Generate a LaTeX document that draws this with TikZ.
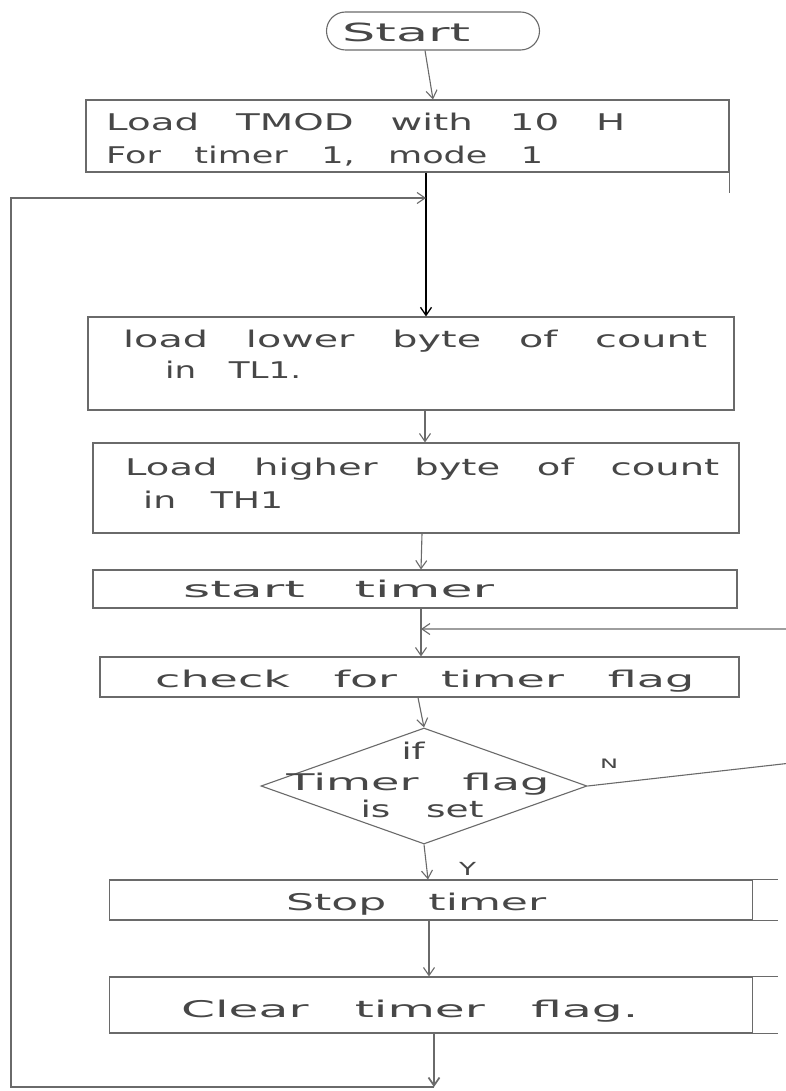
\documentclass[tikz,border=0pt]{standalone}
\usepackage{fontspec}
\setmainfont{DejaVu Sans}[WordSpace=3]
\usepackage{graphicx}
\usetikzlibrary{arrows.meta,shapes.geometric}
\definecolor{inkline}{HTML}{6A6A6A}
\definecolor{inktext}{HTML}{474747}
\newcommand{\hw}[2]{\resizebox{#1pt}{\height}{#2}}
\begin{document}
\begin{tikzpicture}[x=1pt,y=-1pt,
  ln/.style={draw=inkline, line width=1.1pt},
  arr/.style={ln, -{Straight Barb[length=8pt,width=11pt]}},
  boxshape/.style={draw=inkline, line width=1.1pt, rectangle, inner sep=0pt},
  txt/.style={anchor=base west, inner sep=0pt, text=inktext, font=\fontsize{23pt}{28pt}\selectfont},
  ctxt/.style={txt, anchor=base}]
\fill[white] (0,0) rectangle (786,1091);
\useasboundingbox (0,0) rectangle (786,1091);

% boxes
\node[boxshape, minimum width=213pt, minimum height=38pt, rounded corners=19pt] (st) at (433,31) {};
\node[boxshape, minimum width=643pt, minimum height=72pt] (b1) at (407.5,136) {};
\node[boxshape, minimum width=646pt, minimum height=93pt] (b2) at (411,363.5) {};
\node[boxshape, minimum width=646pt, minimum height=90pt] (b3) at (416,488) {};
\node[boxshape, minimum width=644pt, minimum height=38pt] (b4) at (415,589) {};
\node[boxshape, minimum width=639pt, minimum height=40pt] (b5) at (419.5,677) {};
\node[draw=inkline, line width=1.1pt, diamond, inner sep=0pt, minimum width=326pt, minimum height=116pt] (dia) at (424,786) {};
\node[boxshape, minimum width=643pt, minimum height=40pt] (b6) at (431,900) {};
\node[boxshape, minimum width=643pt, minimum height=56pt] (b7) at (431,1005) {};

% hand-drawn overruns of box edges
\draw[ln] (b1.south east) -- ++(0,20);
\draw[ln] (b6.north east) -- ++(25,0);
\draw[ln] (b6.south east) -- ++(25,0);
\draw[ln] (b7.north east) -- ++(25,0);
\draw[ln] (b7.south east) -- ++(25,0);

% texts
\node[txt, font=\fontsize{25pt}{30pt}\selectfont] (tst) at (342,42) {\hw{128}{Start}};
\node[txt] (t1a) at (106,131) {\hw{519}{Load TMOD with 10 H}};
\node[txt] (t1b) at (106,164) {\hw{437}{For timer 1, mode 1}};
\node[txt] (t2a) at (123,347) {\hw{584}{load lower byte of count}};
\node[txt] (t2b) at (165,378) {\hw{136}{in TL1.}};
\node[txt] (t3a) at (125,475) {\hw{594}{Load higher byte of count}};
\node[txt] (t3b) at (143,508) {\hw{140}{in TH1}};
\node[txt] (t4) at (183,597) {\hw{311}{start timer}};
\node[txt] (t5) at (155,687) {\hw{539}{check for timer flag}};
\node[ctxt] (td1) at (413,759) {\hw{23}{if}};
\node[ctxt] (td2) at (418,790) {\hw{263}{Timer flag}};
\node[ctxt] (td3) at (422,817) {\hw{123}{is set}};
\node[txt] (t6) at (286,910) {\hw{260}{Stop timer}};
\node[txt] (t7) at (181,1017) {\hw{457}{Clear timer flag.}};
\node[txt, font=\fontsize{13pt}{15pt}\selectfont] (tn) at (600,768) {\hw{18}{N}};
\node[txt, font=\fontsize{18pt}{20pt}\selectfont] (ty) at (459,875) {\hw{17}{Y}};

% connector coordinates
\coordinate (jtop) at (426,198);
\coordinate (lt) at (11,198);
\coordinate (lb) at (11,1087);
\coordinate (bb) at (434,1087);
\coordinate (nr) at (800,762);
\coordinate (nu) at (800,629);
\coordinate (jmid) at (421,629);

% main flow
\draw[arr] ([xshift=-8pt]st.south) -- ([xshift=25.5pt]b1.north);
\draw[arr, draw=black, line width=1.3pt] ([xshift=18.5pt]b1.south) -- ([xshift=15pt]b2.north);
\draw[arr] ([xshift=14pt]b2.south) -- ([xshift=9pt]b3.north);
\draw[arr] ([xshift=6pt]b3.south) -- ([xshift=6pt]b4.north);
\draw[arr] ([xshift=6pt]b4.south) -- ([xshift=1.5pt]b5.north);
\draw[arr] ([xshift=-1.5pt]b5.south) -- (dia.north);
\draw[arr] (dia.south) -- ([xshift=-3pt]b6.north);
\draw[arr] ([xshift=-2pt]b6.south) -- ([xshift=-2pt]b7.north);
\draw[arr, line width=1.7pt] ([xshift=3pt]b7.south) -- (bb);

% loops
\draw[arr] (bb) -- (lb) -- (lt) -- (jtop);
\draw[arr] (dia.east) -- (nr) -- (nu) -- (jmid);
\end{tikzpicture}
\end{document}
